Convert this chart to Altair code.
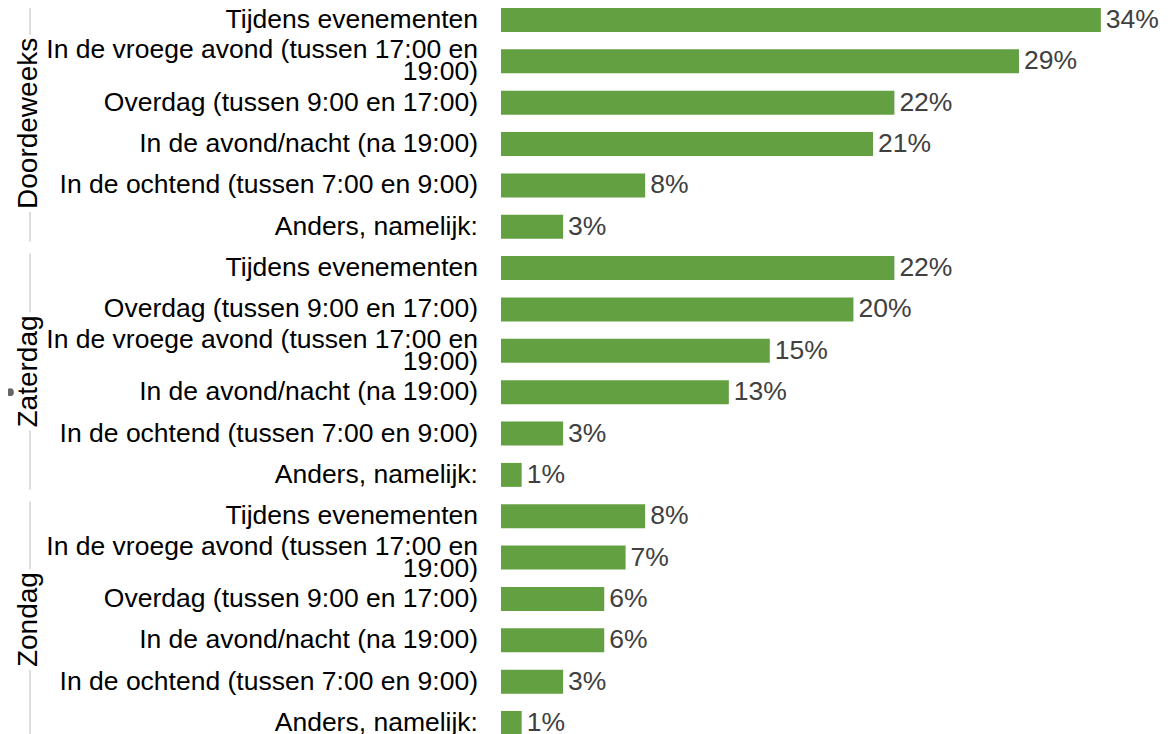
import altair as alt
import pandas as pd

# ---- data ----
groups = ["Doordeweeks", "Zaterdag", "Zondag"]

cats_doordeweeks = [
    "Tijdens evenementen",
    "In de vroege avond (tussen 17:00 en\n19:00)",
    "Overdag (tussen 9:00 en 17:00)",
    "In de avond/nacht (na 19:00)",
    "In de ochtend (tussen 7:00 en 9:00)",
    "Anders, namelijk:",
]
vals_doordeweeks = [33.7, 29.1, 22.1, 20.9, 8.1, 3.49]

cats_zaterdag = [
    "Tijdens evenementen",
    "Overdag (tussen 9:00 en 17:00)",
    "In de vroege avond (tussen 17:00 en\n19:00)",
    "In de avond/nacht (na 19:00)",
    "In de ochtend (tussen 7:00 en 9:00)",
    "Anders, namelijk:",
]
vals_zaterdag = [22.1, 19.8, 15.1, 12.8, 3.49, 1.16]

cats_zondag = [
    "Tijdens evenementen",
    "In de vroege avond (tussen 17:00 en\n19:00)",
    "Overdag (tussen 9:00 en 17:00)",
    "In de avond/nacht (na 19:00)",
    "In de ochtend (tussen 7:00 en 9:00)",
    "Anders, namelijk:",
]
vals_zondag = [8.1, 7.0, 5.8, 5.8, 3.49, 1.16]

# ---- layout / style constants ----
FONT = "Liberation Sans"
LABEL_SIZE = 26.5
GROUP_SIZE = 28
BAR_COLOR = "#63a042"
PAD_INNER = 0.42
N_ROWS = 18
PLOT_W = 623
PLOT_H = 727
STEP = PLOT_H / (N_ROWS - PAD_INNER)

rows = []
for g, cats, vals in [
    (groups[0], cats_doordeweeks, vals_doordeweeks),
    (groups[1], cats_zaterdag, vals_zaterdag),
    (groups[2], cats_zondag, vals_zondag),
]:
    for c, v in zip(cats, vals):
        rows.append({"group": g, "category": c, "value": v})
df = pd.DataFrame(rows)
df["key"] = [f"{i:02d}" for i in range(len(df))]
df["multi"] = df["category"].str.contains("\n")

# approximate text widths (Arial metrics) for the gap in the group lines
ARIAL = {"D": 722, "o": 556, "r": 333, "d": 556, "e": 556, "w": 722, "k": 500,
         "s": 500, "Z": 611, "a": 556, "t": 278, "g": 556, "n": 556}


def text_w(s, size):
    return sum(ARIAL.get(ch, 556) for ch in s) * size / 1000.0


inset = 6 / STEP
glines = []
gtext = []
for gi, g in enumerate(groups):
    top = 6 * gi - PAD_INNER / 2 + inset
    bottom = 6 * gi + 6 - PAD_INNER / 2 - inset
    mid = 6 * gi + 3 - PAD_INNER / 2
    half = (text_w(g, GROUP_SIZE) / 2 + 3) / STEP
    glines.append({"y": top, "y2": mid - half})
    glines.append({"y": mid + half, "y2": bottom})
    gtext.append({"group": g, "y": mid})
glines_df = pd.DataFrame(glines)
gtext_df = pd.DataFrame(gtext)
dot_df = pd.DataFrame([{"y": 9 + (1 - PAD_INNER) / 2}])

yband = alt.Y("key:N", sort=None, axis=None,
              scale=alt.Scale(paddingInner=PAD_INNER, paddingOuter=0))
xscale = alt.Scale(domain=[0, 35], nice=False, zero=True)

base = alt.Chart(df)

bars = base.mark_bar(color=BAR_COLOR).encode(
    x=alt.X("value:Q", scale=xscale, axis=None),
    y=yband,
)

vlabels = base.transform_calculate(
    lbl="format(datum.value, '.0f') + '%'"
).mark_text(align="left", baseline="middle", dx=5, font=FONT,
            fontSize=LABEL_SIZE, color="#404040").encode(
    x=alt.X("value:Q", scale=xscale, axis=None),
    y=yband,
    text="lbl:N",
)

clabels_single = base.transform_filter("!datum.multi").mark_text(
    align="right", baseline="middle", font=FONT, fontSize=LABEL_SIZE,
    color="#000000").encode(
    x=alt.value(-23),
    y=yband,
    text="category:N",
)

clabels_multi = base.transform_filter("datum.multi").mark_text(
    align="right", baseline="middle", font=FONT, fontSize=LABEL_SIZE,
    color="#000000", lineBreak="\n", lineHeight=22, dy=-11).encode(
    x=alt.value(-23),
    y=yband,
    text="category:N",
)

yq = alt.Scale(domain=[0, N_ROWS - PAD_INNER], reverse=True, nice=False, zero=False)

lines = alt.Chart(glines_df).mark_rule(color="#dddddd", strokeWidth=2).encode(
    x=alt.value(-471),
    y=alt.Y("y:Q", scale=yq, axis=None),
    y2="y2:Q",
)

gl = alt.Chart(gtext_df).mark_text(angle=270, align="center", baseline="middle",
                                   font=FONT, fontSize=GROUP_SIZE,
                                   color="#000000").encode(
    x=alt.value(-472),
    y=alt.Y("y:Q", scale=yq, axis=None),
    text="group:N",
)

dot = alt.Chart(dot_df).mark_circle(color="#666666", size=60,
                                    opacity=1).encode(
    x=alt.value(-491),
    y=alt.Y("y:Q", scale=yq, axis=None),
)

chart = alt.layer(
    alt.layer(bars, vlabels, clabels_single, clabels_multi),
    alt.layer(lines, gl, dot),
).resolve_scale(y="independent").properties(
    width=PLOT_W,
    height=PLOT_H,
    autosize=alt.AutoSizeParams(type="none"),
    padding={"left": 493, "top": 0, "right": 42, "bottom": 0},
).configure_view(stroke=None)

chart.save("out.html", embed_options={"renderer": "svg", "actions": False})
